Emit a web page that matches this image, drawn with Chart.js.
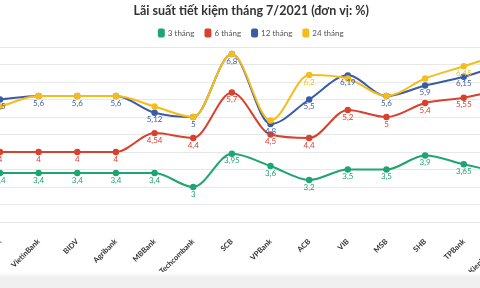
<!DOCTYPE html>
<html><head><meta charset="utf-8">
<script src="https://cdn.jsdelivr.net/npm/chart.js@4.4.1/dist/chart.umd.min.js"></script>
<style>
html,body{margin:0;padding:0;background:#fff;overflow:hidden;width:480px;height:288px;}
#wrap{position:absolute;left:-40px;top:0;width:560px;height:288px;}
#shade{position:absolute;left:0;top:272px;width:480px;height:16px;background:linear-gradient(#ffffff,#efefef 40%,#f0f0f0);}
</style></head>
<body>
<div id="wrap"><canvas id="c" width="560" height="288"></canvas></div>
<div id="shade"></div>
<script>
const categories = ['Vietcombank','VietinBank','BIDV','Agribank','MBBank','Techcombank','SCB','VPBank','ACB','VIB','MSB','SHB','TPBank','Kienlongbank'];
const seriesNames = ['3 tháng','6 tháng','12 tháng','24 tháng'];
const months3  = [3.4, 3.4, 3.4, 3.4, 3.4, 3, 3.95, 3.6, 3.2, 3.5, 3.5, 3.9, 3.65, 3.4];
const months6  = [4, 4, 4, 4, 4.54, 4.4, 5.7, 4.5, 4.4, 5.2, 5, 5.4, 5.55, 5.8];
const months12 = [5.5, 5.6, 5.6, 5.6, 5.12, 5, 6.8, 4.8, 5.5, 6.19, 5.6, 5.9, 6.15, 6.5];
const months24 = [5.3, 5.6, 5.6, 5.6, 5.3, 5, 6.8, 4.9, 6.2, 6.1, 5.6, 6.1, 6.45, 6.8];
const yTicks = [2, 2.5, 3, 3.5, 4, 4.5, 5, 5.5, 6, 6.5, 7];
// which points carry a value label (by series)
const labelShown = [
  categories.map(()=>true),
  categories.map(()=>true),
  categories.map(()=>true),
  categories.map((c,i)=> i===8 || i===12)
];
const colors = ['#1ea571','#d9412f','#3a5ba6','#f5bd1c'];
const allData = [months3, months6, months12, months24];
const orders = [0, 1, 3, 2];

const valueLabels = {
  id:'valueLabels',
  afterDatasetsDraw(chart){
    const ctx = chart.ctx;
    ctx.save();
    ctx.font = '8px Lato';
    ctx.textAlign = 'center';
    ctx.textBaseline = 'top';
    chart.data.datasets.forEach((ds, di)=>{
      const meta = chart.getDatasetMeta(di);
      meta.data.forEach((pt, i)=>{
        if(!labelShown[di][i]) return;
        ctx.fillStyle = colors[di];
        ctx.fillText(String(ds.data[i]).replace('.', ','), pt.x, pt.y + 3);
      });
    });
    ctx.restore();
  }
};

new Chart(document.getElementById('c'), {
  type:'line',
  data:{
    labels: categories,
    datasets: allData.map((d,i)=>({
      label: seriesNames[i],
      data: d,
      borderColor: colors[i],
      backgroundColor: colors[i],
      pointBackgroundColor: colors[i],
      pointBorderColor: colors[i],
      pointRadius: 2.2,
      borderWidth: 2,
      cubicInterpolationMode: 'monotone',
      fill: false,
      order: orders[i]
    }))
  },
  options:{
    responsive:false,
    animation:false,
    layout:{padding:{left:40, right:17.6, top:0, bottom:0}},
    plugins:{
      title:{display:true, text:'Lãi suất tiết kiệm tháng 7/2021 (đơn vị: %)', color:'#333', font:{family:'Lato', size:12.5, weight:'bold'}, padding:{top:3, bottom:0}},
      legend:{display:true, labels:{boxWidth:5, boxHeight:7, color:'#555', font:{family:'Lato', size:8}, padding:11, useBorderRadius:true, borderRadius:1,
        sort:(a,b)=>a.datasetIndex-b.datasetIndex}},
      tooltip:{enabled:false}
    },
    scales:{
      x:{
        offset:false,
        grid:{display:false},
        border:{display:false},
        ticks:{autoSkip:false, maxRotation:45, minRotation:45, color:'#333', font:{family:'Lato', size:7.5, weight:'bold'}, padding:7},
        afterFit(scale){ scale.height = 66; }
      },
      y:{
        min:2, max:7,
        afterBuildTicks(scale){ scale.ticks = yTicks.map(v=>({value:v})); },
        grid:{color:'#e8e8e8', lineWidth:1, drawTicks:false},
        border:{display:false},
        ticks:{display:false}
      }
    }
  },
  plugins:[valueLabels]
});
</script>
</body></html>
